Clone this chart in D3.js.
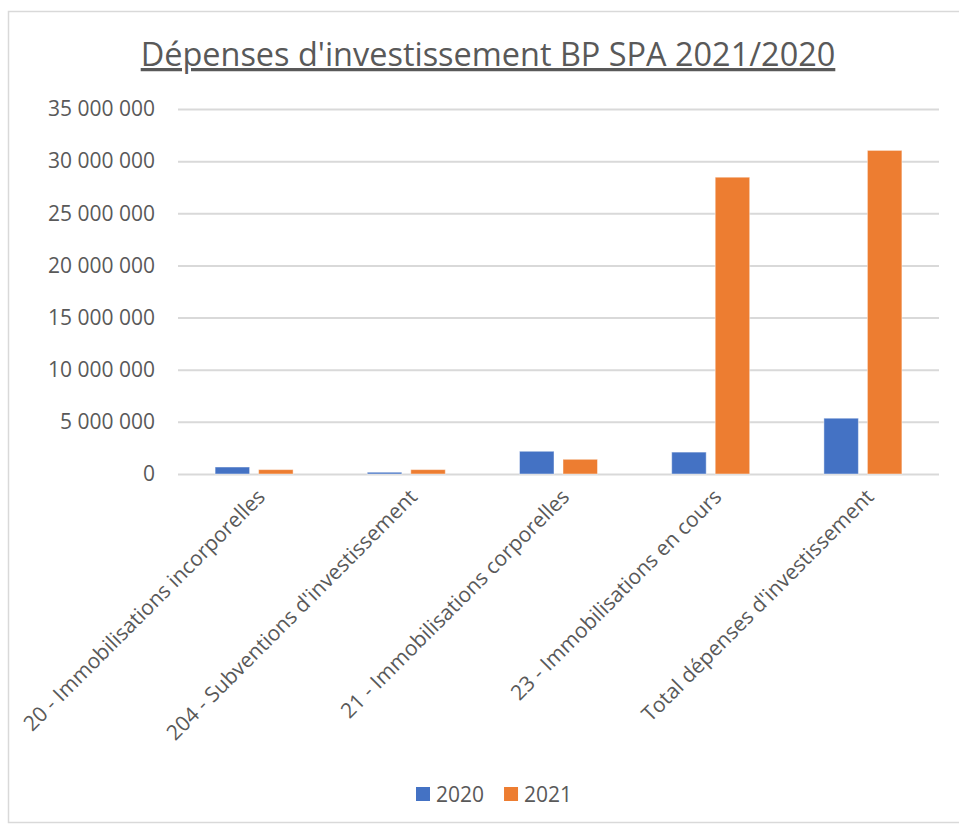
<!DOCTYPE html>
<html>
<head>
<meta charset="utf-8">
<script src="https://cdn.jsdelivr.net/npm/d3@7"></script>
<style>
  body { margin: 0; background: #fff; }
  text { font-family: "Open Sans", sans-serif; fill: #595959; }
</style>
</head>
<body>
<script>
//chart data
var categories = [
    "20 - Immobilisations incorporelles",
    "204 - Subventions d'investissement",
    "21 - Immobilisations corporelles",
    "23 - Immobilisations en cours",
    "Total dépenses d'investissement"
];
var years = ["2020", "2021"];
var values2020 = [670000, 170000, 2180000, 2100000, 5350000];
var values2021 = [420000, 420000, 1410000, 28460000, 31030000];
var yTicks = [0, 5000000, 10000000, 15000000, 20000000, 25000000, 30000000, 35000000];
var colors = ["#4472C4", "#ED7D31"];
var title = "Dépenses d'investissement BP SPA 2021/2020";

//frame dimensions
var width = 959,
    height = 825;
var plotLeft = 178, plotRight = 939, plotTop = 109, plotBottom = 474;

var svg = d3.select("body")
    .append("svg")
    .attr("width", width)
    .attr("height", height);

//chart border
svg.append("rect")
    .attr("x", 8.5)
    .attr("y", 11.5)
    .attr("width", 970)
    .attr("height", 811)
    .attr("fill", "none")
    .attr("stroke", "#d9d9d9")
    .attr("stroke-width", 1.5);

//title, sized to fit the reference width
var titleText = svg.append("text")
    .attr("x", 488)
    .attr("y", 66)
    .attr("text-anchor", "middle")
    .style("font-size", "30px")
    .style("text-decoration", "underline")
    .text(title);
var tw = titleText.node().getComputedTextLength();
titleText.style("font-size", (30 * 695 / tw) + "px");

//scales
var y = d3.scaleLinear()
    .domain([0, 35000000])
    .range([plotBottom, plotTop]);

var x0 = d3.scaleBand()
    .domain(categories)
    .range([plotLeft, plotRight]);

var x1 = d3.scaleBand()
    .domain(years)
    .range([0, x0.bandwidth()])
    .paddingInner(0.207)
    .paddingOuter(0.853);

//french number format
var fr = d3.formatLocale({decimal: ",", thousands: " ", grouping: [3], currency: ["", " €"]});
var fmt = fr.format(",.0f");

//gridlines and y labels
var yAxis = svg.append("g")
    .attr("transform", "translate(" + plotLeft + ",0)")
    .call(d3.axisLeft(y)
        .tickValues(yTicks)
        .tickFormat(fmt)
        .tickSize(-(plotRight - plotLeft))
        .tickPadding(23));
yAxis.select(".domain").remove();
yAxis.selectAll("line")
    .attr("stroke", "#d9d9d9")
    .attr("stroke-width", 2);
yAxis.selectAll("text")
    .style("font-size", "21px")
    .style("font-family", "'Open Sans', sans-serif")
    .attr("fill", "#595959");

//bars
var series = [values2020, values2021];
var groups = svg.selectAll(".group")
    .data(categories)
    .enter()
    .append("g")
    .attr("class", "group")
    .attr("transform", function(d){ return "translate(" + x0(d) + ",0)"; });

groups.selectAll("rect")
    .data(function(d, i){
        return years.map(function(yr, j){ return {year: yr, value: series[j][i], color: colors[j]}; });
    })
    .enter()
    .append("rect")
    .attr("x", function(d){ return x1(d.year); })
    .attr("y", function(d){ return y(d.value); })
    .attr("width", x1.bandwidth())
    .attr("height", function(d){ return plotBottom - y(d.value); })
    .attr("fill", function(d){ return d.color; })
    .attr("stroke", "rgba(255,255,255,0.45)")
    .attr("stroke-width", 1);

//rotated category labels
svg.selectAll(".catLabel")
    .data(categories)
    .enter()
    .append("text")
    .attr("class", "catLabel")
    .attr("text-anchor", "end")
    .attr("dy", "0.35em")
    .attr("transform", function(d){
        return "translate(" + (x0(d) + x0.bandwidth() / 2 + 7) + "," + 493 + ") rotate(-45)";
    })
    .style("font-size", "21px")
    .text(function(d){ return d; });

//legend
var legend = svg.append("g").attr("class", "legend");
var lx = 416;
years.forEach(function(yr, j){
    legend.append("rect")
        .attr("x", lx)
        .attr("y", 787)
        .attr("width", 14)
        .attr("height", 14)
        .attr("fill", colors[j]);
    var t = legend.append("text")
        .attr("x", lx + 20)
        .attr("y", 802)
        .style("font-size", "21px")
        .text(yr);
    lx += 20 + t.node().getComputedTextLength() + 20;
});
</script>
</body>
</html>
